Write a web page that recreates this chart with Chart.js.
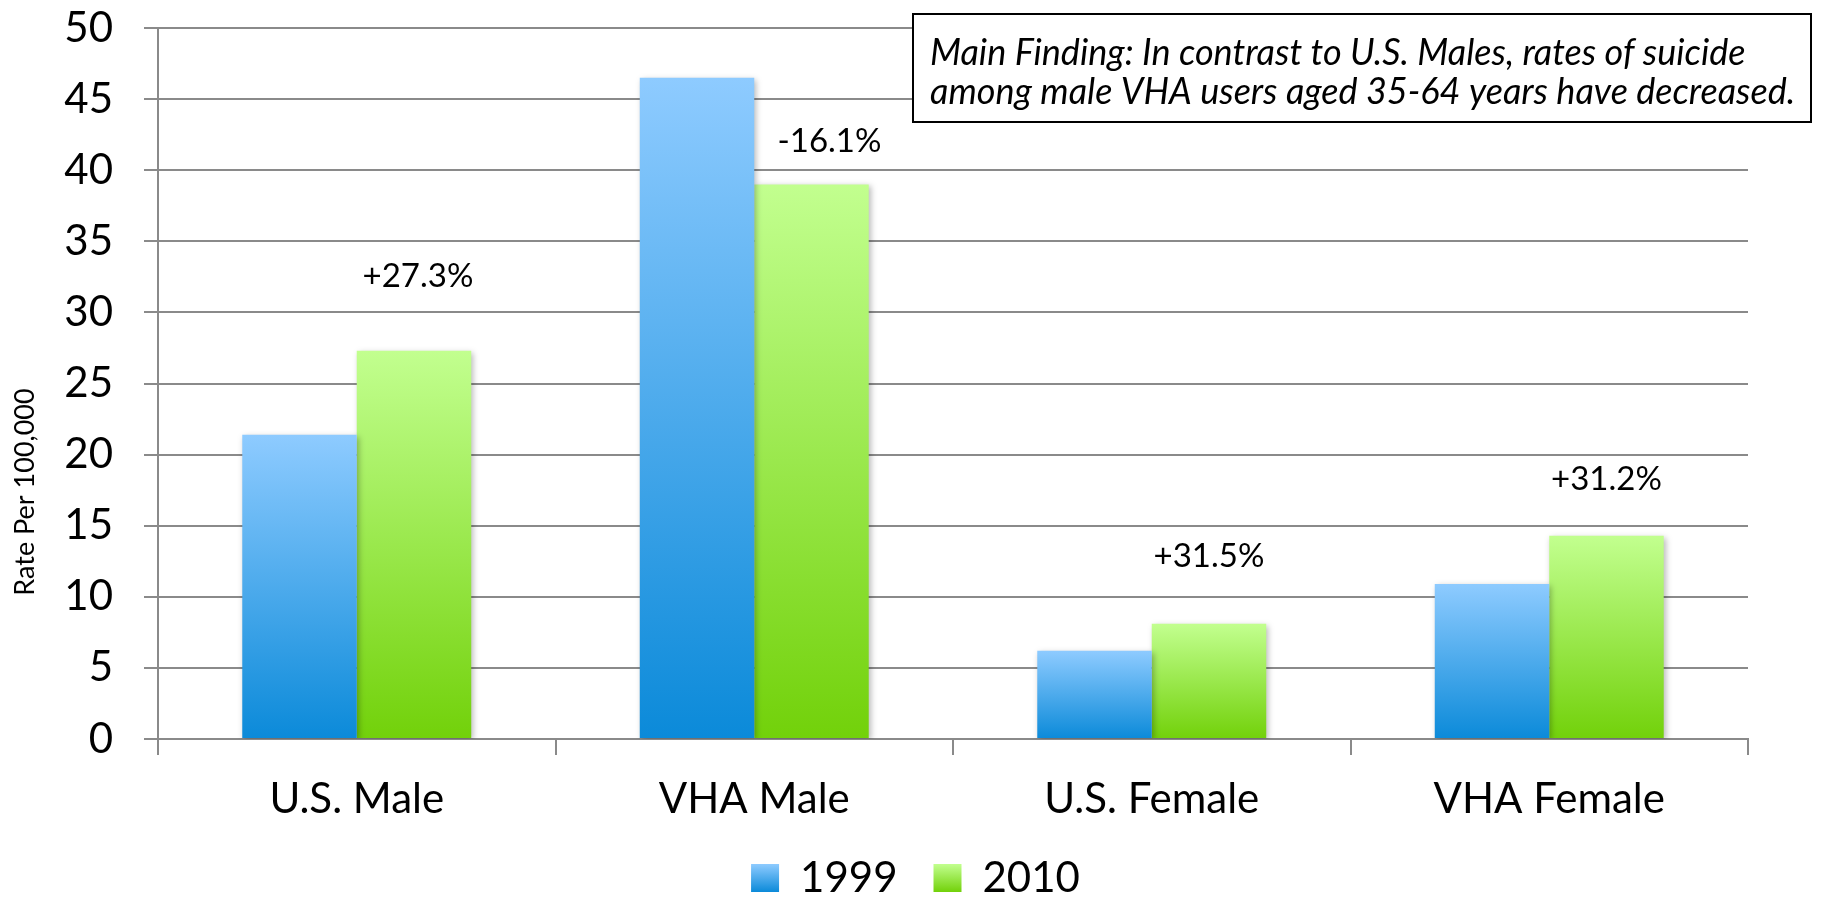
<!DOCTYPE html>
<html>
<head>
<meta charset="utf-8">
<script src="https://cdn.jsdelivr.net/npm/chart.js@4.4.0/dist/chart.umd.min.js"></script>
<style>
  html, body { margin: 0; background: #fff; }
  canvas { display: block; }
</style>
</head>
<body>
<canvas id="chart" width="1831" height="900"></canvas>
<script>
/* data */
const CATEGORIES = ["U.S. Male", "VHA Male", "U.S. Female", "VHA Female"];
const SERIES_NAMES = ["1999", "2010"];
const RATE_1999 = [21.4, 46.5, 6.2, 10.9];
const RATE_2010 = [27.3, 39.0, 8.1, 14.3];
const CHANGE = ["+27.3%", "-16.1%", "+31.5%", "+31.2%"];
const Y_MIN = 0, Y_MAX = 50, Y_STEP = 5;
const Y_TITLE = "Rate Per 100,000";
const NOTE = [
  "Main Finding: In contrast to U.S. Males, rates of suicide",
  "among male VHA users aged 35-64 years have decreased."
];

const FONT = "Lato, 'Open Sans', sans-serif";
const GRID = "#8a8a8a";
const COLORS = [["#8ecbff", "#0b8ad9"], ["#c2ff8f", "#72d10a"]];

function vGradient(ctx, y0, y1, stops) {
  const g = ctx.createLinearGradient(0, y0, 0, y1);
  g.addColorStop(0, stops[0]);
  g.addColorStop(1, stops[1]);
  return g;
}

/* gradient per bar: light on top, dark at the base */
function barFill(stops) {
  return c => {
    const chart = c.chart;
    const y = chart.scales.y;
    if (c.type === "data" && chart.chartArea && y) {
      return vGradient(chart.ctx, y.getPixelForValue(c.raw), y.getPixelForValue(0), stops);
    }
    return stops[1];
  };
}

function noPad(s) {
  s.paddingTop = 0;
  s.paddingBottom = 0;
}

/* shadow under bars + change labels above the 2010 bars */
const barExtras = {
  id: "barExtras",
  beforeDraw(chart) {
    // legend swatches get the same gradient as the bars
    const lg = chart.legend;
    if (!lg || !lg.legendItems) return;
    lg.legendItems.forEach((it, i) => {
      const hb = lg.legendHitBoxes[i];
      if (!hb) return;
      const t = hb.top + (hb.height - 28) / 2;
      it.fillStyle = vGradient(chart.ctx, t, t + 28, COLORS[i]);
    });
  },
  beforeDatasetsDraw(chart) {
    const ctx = chart.ctx;
    ctx.save();
    ctx.shadowColor = "rgba(0,0,0,0.28)";
    ctx.shadowBlur = 6;
    ctx.shadowOffsetX = 2;
    ctx.shadowOffsetY = 2;
  },
  afterDatasetsDraw(chart, args, opts) {
    const ctx = chart.ctx;
    ctx.restore();
    const meta = chart.getDatasetMeta(1);
    ctx.save();
    ctx.font = "33px " + FONT;
    ctx.fillStyle = "#000";
    ctx.textAlign = "center";
    ctx.textBaseline = "middle";
    meta.data.forEach((bar, i) => {
      ctx.fillText(CHANGE[i], bar.x + opts.dx[i], bar.y - opts.dy[i]);
    });
    ctx.restore();
  }
};

/* y title and the note box */
const extras = {
  id: "extras",
  afterDraw(chart) {
    const ctx = chart.ctx;
    ctx.save();
    ctx.translate(25, 492);
    ctx.rotate(-Math.PI / 2);
    ctx.font = "27px " + FONT;
    ctx.fillStyle = "#000";
    ctx.textAlign = "center";
    ctx.textBaseline = "middle";
    ctx.fillText(Y_TITLE, 0, 0);
    ctx.restore();

    ctx.save();
    ctx.fillStyle = "#fff";
    ctx.fillRect(913, 14, 898, 108);
    ctx.strokeStyle = "#000";
    ctx.lineWidth = 2;
    ctx.strokeRect(913, 14, 898, 108);
    ctx.font = "italic 36px " + FONT;
    ctx.fillStyle = "#000";
    ctx.textBaseline = "middle";
    ctx.fillText(NOTE[0], 930, 53);
    ctx.fillText(NOTE[1], 930, 92);
    ctx.restore();
  }
};

new Chart(document.getElementById("chart"), {
  type: "bar",
  data: {
    labels: CATEGORIES,
    datasets: [
      { label: SERIES_NAMES[0], data: RATE_1999, backgroundColor: barFill(COLORS[0]) },
      { label: SERIES_NAMES[1], data: RATE_2010, backgroundColor: barFill(COLORS[1]) }
    ]
  },
  options: {
    responsive: false,
    animation: false,
    layout: { padding: { top: 28, left: 0, right: 0, bottom: -9 } },
    datasets: { bar: { categoryPercentage: 0.576, barPercentage: 1, borderWidth: 0 } },
    scales: {
      x: {
        offset: true,
        grid: { drawOnChartArea: false, drawTicks: true, tickLength: 16, color: GRID, lineWidth: 2 },
        border: { color: GRID, width: 2 },
        ticks: { color: "#000", font: { family: FONT, size: 42 }, padding: 19 },
        afterFit: s => { s.height = 82; }
      },
      y: {
        min: Y_MIN, max: Y_MAX,
        grid: { color: GRID, lineWidth: 2, tickLength: 14 },
        border: { color: GRID, width: 2 },
        ticks: { stepSize: Y_STEP, color: "#000", font: { family: FONT, size: 42 }, padding: 31 },
        afterFit: s => { s.width = 158; noPad(s); }
      },
      pad: {
        position: "right",
        display: true,
        grid: { display: false },
        border: { display: false },
        ticks: { display: false },
        afterFit: s => { s.width = 83; noPad(s); }
      }
    },
    plugins: {
      tooltip: { enabled: false },
      legend: {
        position: "bottom",
        labels: { color: "#000", font: { family: FONT, size: 42 }, boxWidth: 28, boxHeight: 28, padding: 36 }
      },
      barExtras: { dx: [4, 18, 0, 0], dy: [74, 43, 67, 56] }
    }
  },
  plugins: [barExtras, extras]
});
</script>
</body>
</html>
